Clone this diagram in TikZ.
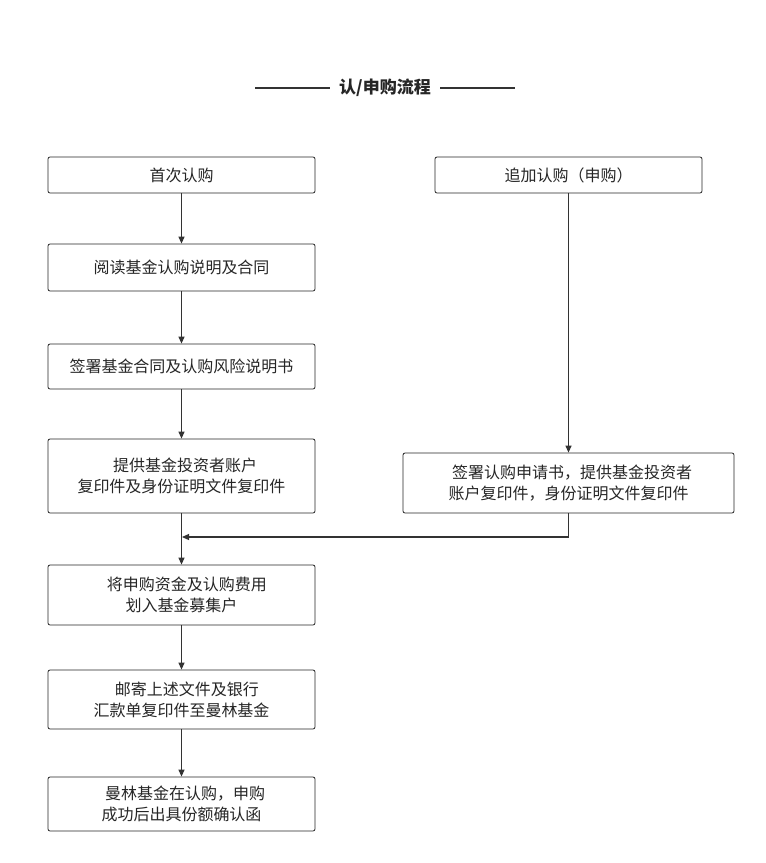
\documentclass[tikz,border=0pt]{standalone}
\usepackage{fontspec}
\newfontfamily\cjk{Noto Sans CJK SC}
\usetikzlibrary{arrows.meta}
\begin{document}
\begin{tikzpicture}[x=1pt,y=-1pt,
  box/.style={draw=black!85,line width=0.8pt,rounded corners=2pt,font=\cjk\fontsize{16}{21}\selectfont,text=black!85,align=center,inner sep=0pt},
  arr/.style={draw=black!80,line width=1.2pt,-{Triangle[length=7pt,width=6pt]}}]
\useasboundingbox (0,0) rectangle (766,863);
\fill[white] (0,0) rectangle (766,863);
\node[font=\cjk\bfseries\fontsize{17}{20}\selectfont,text=black!85] (t) at (385,88) {认/申购流程};
\coordinate (tl1) at (255,88); \coordinate (tl2) at (330,88);
\coordinate (tr1) at (440,88); \coordinate (tr2) at (515,88);
\draw[line width=1.2pt,black!80] (tl1)--(tl2) (tr1)--(tr2);
\node[box,minimum width=267pt,minimum height=36pt] (a1) at (181.5,175) {首次认购};
\node[box,minimum width=267pt,minimum height=47pt] (a2) at (181.5,267.5) {阅读基金认购说明及合同};
\node[box,minimum width=267pt,minimum height=45pt] (a3) at (181.5,366.5) {签署基金合同及认购风险说明书};
\node[box,minimum width=267pt,minimum height=74pt] (a4) at (181.5,476) {\ \ 提供基金投资者账户\\复印件及身份证明文件复印件};
\node[box,minimum width=267pt,minimum height=60pt] (a5) at (181.5,595) {\ \ \ 将申购资金及认购费用\\划入基金募集户\hspace{2.5em}};
\node[box,minimum width=267pt,minimum height=59pt] (a6) at (181.5,699.5) {\ \ \ 邮寄上述文件及银行\\汇款单复印件至曼林基金};
\node[box,minimum width=267pt,minimum height=54pt] (a7) at (181.5,804) {\ \ 曼林基金在认购，申购\\成功后出具份额确认函};
\node[box,minimum width=267pt,minimum height=36pt] (b1) at (568.5,175) {追加认购（申购）};
\node[box,minimum width=331pt,minimum height=60pt] (b2) at (568.5,483) {\ \ 签署认购申请书，提供基金投资者\\账户复印件，身份证明文件复印件};
\draw[arr] (a1)--(a2);
\draw[arr] (a2)--(a3);
\draw[arr] (a3)--(a4);
\draw[arr] (a4)--(a5);
\draw[arr] (a5)--(a6);
\draw[arr] (a6)--(a7);
\draw[arr] (b1)--(b2);
\coordinate (m) at (182,537);
\draw[arr] (b2.south) |- (m);
\end{tikzpicture}
\end{document}
